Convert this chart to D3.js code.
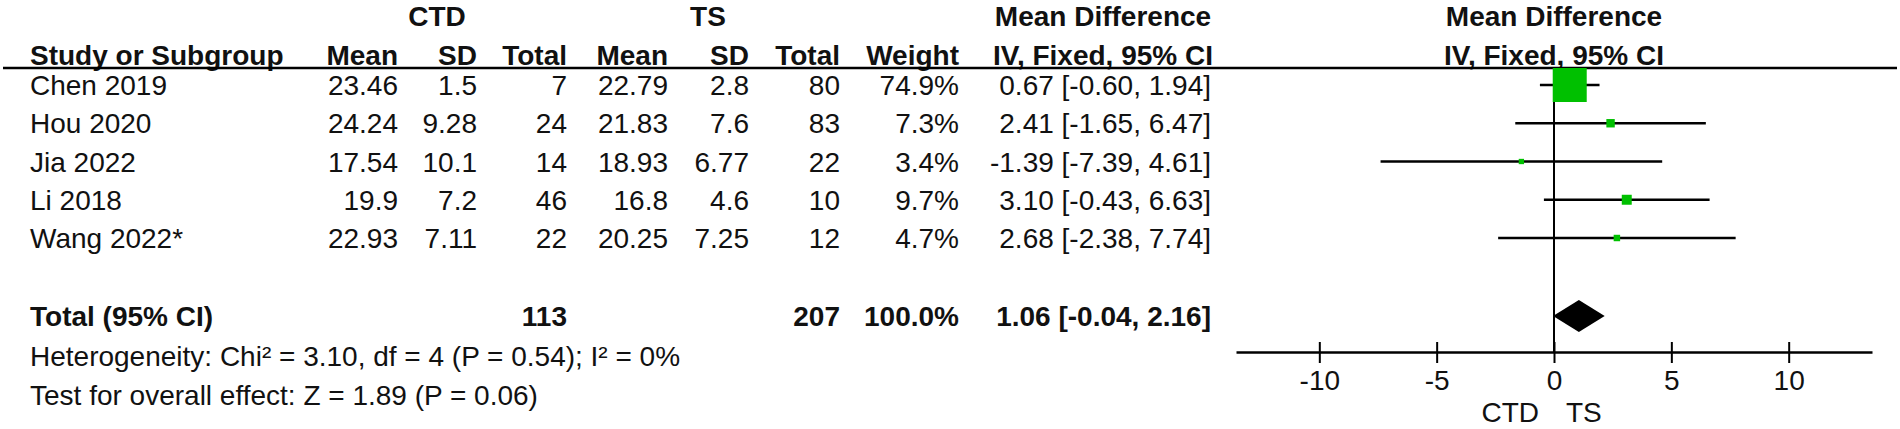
<!DOCTYPE html>
<html>
<head>
<meta charset="utf-8">
<script src="https://cdn.jsdelivr.net/npm/d3@7"></script>
<style>
  html, body { margin: 0; padding: 0; background: #ffffff; }
  svg { display: block; }
  text { font-family: "Liberation Sans", Arial, sans-serif; font-size: 28px; fill: #111; }
  .b { font-weight: bold; }
</style>
</head>
<body>
<svg id="chart" width="1900" height="429"></svg>
<script>
// ---------- data ----------
const studies   = ["Chen 2019", "Hou 2020", "Jia 2022", "Li 2018", "Wang 2022*"];
const ctdMean   = [23.46, 24.24, 17.54, 19.9, 22.93];
const ctdSD     = [1.5, 9.28, 10.1, 7.2, 7.11];
const ctdTotal  = [7, 24, 14, 46, 22];
const tsMean    = [22.79, 21.83, 18.93, 16.8, 20.25];
const tsSD      = [2.8, 7.6, 6.77, 4.6, 7.25];
const tsTotal   = [80, 83, 22, 10, 12];
const weights   = [74.9, 7.3, 3.4, 9.7, 4.7];
const md        = [0.67, 2.41, -1.39, 3.10, 2.68];
const ciLow     = [-0.60, -1.65, -7.39, -0.43, -2.38];
const ciHigh    = [1.94, 6.47, 4.61, 6.63, 7.74];

const pooledCTDTotal = 113;
const pooledTSTotal  = 207;
const pooledWeight   = 100.0;
const pooledMD       = 1.06;
const pooledLow      = -0.04;
const pooledHigh     = 2.16;

const xTicks = [-10, -5, 0, 5, 10];
const xDomain = [-13.55, 13.55];

const groupTitles  = ["CTD", "TS"];
const colHeaders   = ["Mean", "SD", "Total", "Mean", "SD", "Total", "Weight"];
const heterogeneityText = "Heterogeneity: Chi\u00B2 = 3.10, df = 4 (P = 0.54); I\u00B2 = 0%";
const overallText       = "Test for overall effect: Z = 1.89 (P = 0.06)";
const favourLeft  = "CTD";
const favourRight = "TS";

// ---------- layout ----------
const svg = d3.select("#chart");
const loc = d3.formatLocale({decimal: ".", thousands: ",", grouping: [3], currency: ["", ""], minus: "-"});
const f2 = loc.format(".2f");
const f1 = loc.format(".1f");
const fd = loc.format("d");

const leftX = 30;
const colRight = [398, 477, 567, 668, 749, 840, 959]; // Mean SD Total Mean SD Total Weight
const ciRight = 1211;
const ciCenter = 1103;
const groupCenter = [437, 708];

const yTitle = 26, yHeader = 65, yLine = 68;
const y = d3.scalePoint().domain(studies).range([85, 238]);
const yTotal = 316, yHet = 356, yTest = 395;
const yAxis = 352;
const base = v => v + 10; // baseline from row centre

const x = d3.scaleLinear().domain(xDomain).range([1236, 1872]);
const size = d3.scalePow().exponent(0.6).domain([0, d3.max(weights)]).range([0, 34]);

function txt(xp, yp, s, anchor, bold) {
  return svg.append("text")
    .attr("x", xp).attr("y", yp)
    .attr("text-anchor", anchor || "start")
    .attr("class", bold ? "b" : null)
    .text(s);
}

// titles
groupTitles.forEach((t, i) => txt(groupCenter[i], yTitle, t, "middle", true));
txt(ciCenter, yTitle, "Mean Difference", "middle", true);
txt(x(0), yTitle, "Mean Difference", "middle", true);

// header row
txt(leftX, yHeader, "Study or Subgroup", "start", true);
colHeaders.forEach((h, i) => txt(colRight[i], yHeader, h, "end", true));
txt(ciCenter, yHeader, "IV, Fixed, 95% CI", "middle", true);
txt(x(0), yHeader, "IV, Fixed, 95% CI", "middle", true);

// header line
svg.append("line").attr("x1", 3).attr("x2", 1897).attr("y1", yLine).attr("y2", yLine)
  .attr("stroke", "#000").attr("stroke-width", 2.5);

// study rows
const ci = (m, l, h) => f2(m) + " [" + f2(l) + ", " + f2(h) + "]";
studies.forEach((s, i) => {
  const yb = base(y(s));
  txt(leftX, yb, s);
  const cells = [ctdMean[i], ctdSD[i], ctdTotal[i], tsMean[i], tsSD[i], tsTotal[i]].map(String);
  cells.push(f1(weights[i]) + "%");
  cells.forEach((c, j) => txt(colRight[j], yb, c, "end"));
  txt(ciRight, yb, ci(md[i], ciLow[i], ciHigh[i]), "end");
});

// total row
const yTb = base(yTotal);
txt(leftX, yTb, "Total (95% CI)", "start", true);
txt(colRight[2], yTb, String(pooledCTDTotal), "end", true);
txt(colRight[5], yTb, String(pooledTSTotal), "end", true);
txt(colRight[6], yTb, f1(pooledWeight) + "%", "end", true);
txt(ciRight, yTb, ci(pooledMD, pooledLow, pooledHigh), "end", true);

txt(leftX, base(yHet), heterogeneityText);
txt(leftX, base(yTest), overallText);

// zero line
svg.append("line").attr("x1", x(0)).attr("x2", x(0)).attr("y1", yLine).attr("y2", yAxis)
  .attr("stroke", "#000").attr("stroke-width", 2);

// CI lines
svg.append("g").selectAll("line").data(studies).join("line")
  .attr("x1", (d, i) => x(ciLow[i])).attr("x2", (d, i) => x(ciHigh[i]))
  .attr("y1", d => y(d)).attr("y2", d => y(d))
  .attr("stroke", "#000").attr("stroke-width", 2.5);

// markers
svg.append("g").selectAll("rect").data(studies).join("rect")
  .attr("x", (d, i) => x(md[i]) - size(weights[i]) / 2)
  .attr("y", (d, i) => y(d) - size(weights[i]) / 2)
  .attr("width", (d, i) => size(weights[i]))
  .attr("height", (d, i) => size(weights[i]))
  .attr("fill", "#00c000");

// diamond
const dh = 16;
svg.append("path")
  .attr("d", `M${x(pooledLow)},${yTotal} L${x(pooledMD)},${yTotal - dh} L${x(pooledHigh)},${yTotal} L${x(pooledMD)},${yTotal + dh} Z`)
  .attr("fill", "#000");

// axis (ticks both sides)
const axB = svg.append("g").attr("transform", `translate(0,${yAxis})`)
  .call(d3.axisBottom(x).tickValues(xTicks).tickSizeInner(11).tickSizeOuter(0).tickPadding(7).tickFormat(fd));
const axT = svg.append("g").attr("transform", `translate(0,${yAxis})`)
  .call(d3.axisTop(x).tickValues(xTicks).tickSizeInner(10).tickSizeOuter(0).tickFormat(""));
[axB, axT].forEach(g => {
  g.select(".domain").attr("stroke", "#000").attr("stroke-width", 2.5);
  g.selectAll(".tick line").attr("stroke", "#000").attr("stroke-width", 2);
});
axT.select(".domain").remove();
axB.selectAll(".tick text")
  .attr("font-family", null).attr("font-size", null)
  .style("font-size", "28px").style("fill", "#111")
  .attr("dy", null)
  .attr("y", 390 - yAxis);

// favours labels
txt(x(0) - 15, 422, favourLeft, "end");
txt(x(0) + 12, 422, favourRight, "start");
</script>
</body>
</html>
